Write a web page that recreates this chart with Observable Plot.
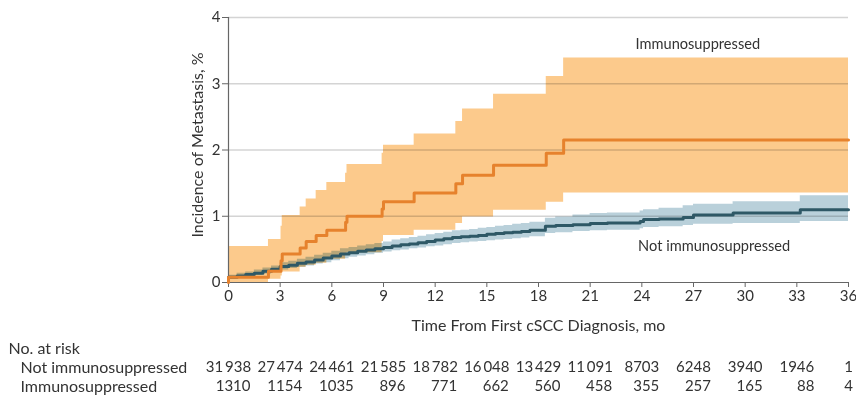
<!DOCTYPE html>
<html>
<head>
<meta charset="utf-8">
<script src="https://cdn.jsdelivr.net/npm/d3@7"></script>
<script src="https://cdn.jsdelivr.net/npm/@observablehq/plot@0.6"></script>
<style>
  html, body { margin: 0; padding: 0; background: #fff; }
</style>
</head>
<body>
<div id="chart"></div>
<script>
// ---- Data ----
const xTicks = [0, 3, 6, 9, 12, 15, 18, 21, 24, 27, 30, 33, 36];
const yTicks = [0, 1, 2, 3, 4];

// Immunosuppressed: cumulative incidence (%) with 95% CI (step function)
const immTime = [0, 2.32, 3.05, 3.12, 4.16, 4.51, 5.09, 5.71, 6.8, 6.88, 8.92, 9.0, 10.78, 13.2, 13.59, 15.39, 18.45, 19.46, 36];
const immEst  = [0.08, 0.17, 0.33, 0.43, 0.52, 0.62, 0.71, 0.79, 0.91, 1.0, 1.11, 1.22, 1.35, 1.49, 1.62, 1.77, 1.95, 2.15, 2.15];
const immLo   = [0, 0.05, 0.10, 0.16, 0.23, 0.26, 0.29, 0.35, 0.42, 0.45, 0.62, 0.71, 0.79, 0.89, 0.99, 1.09, 1.21, 1.35, 1.35];
const immHi   = [0.545, 0.65, 0.85, 1.01, 1.14, 1.26, 1.39, 1.51, 1.65, 1.78, 1.95, 2.07, 2.24, 2.43, 2.62, 2.84, 3.11, 3.39, 3.39];

// Not immunosuppressed
const notTime = [0,0.5,1,1.5,2,2.5,3,3.5,4,4.5,5,5.5,6,6.5,7,7.5,8,8.5,9,9.5,10,10.5,11,11.5,12,12.5,13,13.5,14,14.5,15,15.5,16,16.5,17,17.5,18.4,19,20,21,22,23.9,24.1,25,26.4,27,29.3,33.2,36];
const notEst  = [0.08,0.10,0.12,0.14,0.17,0.20,0.24,0.26,0.29,0.31,0.34,0.37,0.40,0.43,0.45,0.47,0.49,0.51,0.53,0.55,0.57,0.58,0.60,0.62,0.64,0.66,0.68,0.69,0.70,0.71,0.73,0.74,0.75,0.76,0.77,0.79,0.85,0.86,0.87,0.89,0.90,0.92,0.95,0.96,0.98,1.02,1.05,1.10,1.10];
const notLo   = [0.06,0.07,0.09,0.11,0.13,0.16,0.19,0.21,0.23,0.25,0.28,0.30,0.33,0.36,0.38,0.40,0.42,0.44,0.46,0.48,0.49,0.51,0.52,0.54,0.55,0.57,0.59,0.60,0.61,0.62,0.63,0.64,0.65,0.66,0.67,0.69,0.74,0.75,0.77,0.78,0.79,0.81,0.83,0.84,0.86,0.88,0.89,0.92,0.92];
const notHi   = [0.11,0.14,0.16,0.19,0.22,0.25,0.30,0.32,0.35,0.38,0.41,0.44,0.47,0.51,0.53,0.55,0.57,0.59,0.61,0.64,0.66,0.68,0.70,0.72,0.74,0.76,0.78,0.79,0.80,0.82,0.83,0.85,0.86,0.88,0.89,0.91,0.97,0.99,1.02,1.04,1.05,1.08,1.10,1.12,1.16,1.18,1.22,1.31,1.31];

// Number at risk
const riskTime = [0, 3, 6, 9, 12, 15, 18, 21, 24, 27, 30, 33, 36];
const riskNot  = [31938, 27474, 24461, 21585, 18782, 16048, 13429, 11091, 8703, 6248, 3940, 1946, 1];
const riskImm  = [1310, 1154, 1035, 896, 771, 662, 560, 458, 355, 257, 165, 88, 4];

const groupLabels = [
  {t: 27.25, v: 3.6, text: "Immunosuppressed"},
  {t: 28.2, v: 0.54, text: "Not immunosuppressed"}
];
const yLabel = "Incidence of Metastasis, %";
const xLabel = "Time From First cSCC Diagnosis, mo";
const riskTitle = "No. at risk";
const riskRowLabels = ["Not immunosuppressed", "Immunosuppressed"];

// ---- Tables for the library ----
const imm = immTime.map((t, i) => ({t, v: immEst[i], lo: immLo[i], hi: immHi[i]}));
const immLine = [{t: 0, v: 0}, ...imm];
const not = notTime.map((t, i) => ({t, v: notEst[i], lo: notLo[i], hi: notHi[i]}));
const risk = riskTime.map((t, i) => ({t, not: riskNot[i], imm: riskImm[i]}));

const fmt = n => n >= 10000 ? `${Math.floor(n / 1000)}\u2009${String(n % 1000).padStart(3, "0")}` : String(n);
const digits = n => String(n).length;

const FONT = "Lato";
const ORANGE_BAND = "#fcca8c";
const BLUE_BAND = "#b9d0da";
const ORANGE = "#e6822d";
const BLUE = "#2e5866";
const TXT = "#333";
const T = {fill: TXT, fontSize: 15, lineAnchor: "middle"};
const L = {fill: TXT, fontSize: 16, lineAnchor: "middle"};

const chart = Plot.plot({
  width: 856,
  height: 399,
  marginLeft: 228,
  marginRight: 8,
  marginTop: 17,
  marginBottom: 117,
  style: {fontFamily: FONT, fontSize: "15px", color: TXT, background: "#fff", overflow: "visible"},
  x: {domain: [0, 36]},
  y: {domain: [0, 4]},
  marks: [
    Plot.gridY(yTicks.filter(d => d > 0), {stroke: "#d4d4d4", strokeOpacity: 1, strokeWidth: 1.6}),
    Plot.areaY(imm, {x: "t", y1: "lo", y2: "hi", curve: "step-after", fill: ORANGE_BAND, mixBlendMode: "multiply"}),
    Plot.areaY(not, {x: "t", y1: "lo", y2: "hi", curve: "step-after", fill: BLUE_BAND, mixBlendMode: "multiply"}),
    Plot.ruleX([0], {stroke: "#666", strokeWidth: 1.2}),
    Plot.ruleY([0], {stroke: "#666", strokeWidth: 1.2}),
    Plot.axisX({ticks: xTicks, tickSize: 5, tickPadding: 3, label: null, stroke: "#666", fill: TXT, fontSize: 15, tickFormat: d3.format("d")}),
    Plot.axisY({ticks: yTicks, tickSize: 6, tickPadding: 2, label: null, stroke: "#666", fill: TXT, fontSize: 15, tickFormat: d3.format("d")}),
    Plot.lineY(not, {x: "t", y: "v", curve: "step-after", stroke: BLUE, strokeWidth: 3}),
    Plot.lineY(immLine, {x: "t", y: "v", curve: "step-after", stroke: ORANGE, strokeWidth: 3}),
    Plot.text(groupLabels, {x: "t", y: "v", text: "text", ...T, fontSize: 14.6}),
    // axis titles
    Plot.text([yLabel], {text: d => d, frameAnchor: "left", textAnchor: "middle", rotate: -90, dx: -31, dy: -5, ...L}),
    Plot.text([xLabel], {text: d => d, frameAnchor: "bottom", textAnchor: "middle", dy: 43, ...L}),
    // risk table
    Plot.text([riskTitle], {text: d => d, frameAnchor: "bottom-left", textAnchor: "start", dx: -220, dy: 66.5, ...L}),
    Plot.text(riskRowLabels.slice(0, 1), {text: d => d, frameAnchor: "bottom-left", textAnchor: "start", dx: -208, dy: 85, ...L}),
    Plot.text(riskRowLabels.slice(1, 2), {text: d => d, frameAnchor: "bottom-left", textAnchor: "start", dx: -208, dy: 104, ...L}),
    Plot.text(risk, {x: "t", text: d => fmt(d.not), frameAnchor: "bottom", textAnchor: "middle", dy: 85, ...T}),
    Plot.text(risk, {filter: d => digits(d.not) === 5, x: "t", text: d => fmt(d.imm), frameAnchor: "bottom", textAnchor: "end", dx: 22, dy: 104, ...T}),
    Plot.text(risk, {filter: d => digits(d.not) === 4, x: "t", text: d => fmt(d.imm), frameAnchor: "bottom", textAnchor: "end", dx: 17.5, dy: 104, ...T}),
    Plot.text(risk, {filter: d => digits(d.not) === 1, x: "t", text: d => fmt(d.imm), frameAnchor: "bottom", textAnchor: "middle", dy: 104, ...T})
  ]
});
document.getElementById("chart").appendChild(chart);
</script>
</body>
</html>
